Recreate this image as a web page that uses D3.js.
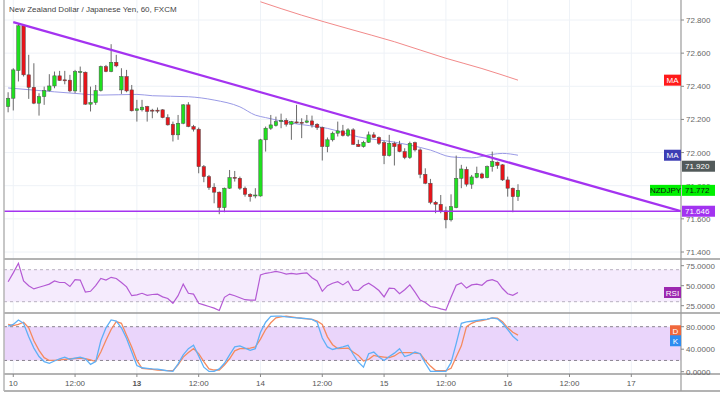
<!DOCTYPE html>
<html>
<head>
<meta charset="utf-8">
<script src="https://cdn.jsdelivr.net/npm/d3@7"></script>
<style>
  body { margin: 0; background: #fff; }
  svg { display: block; font-family: "Liberation Sans", Arial, sans-serif; }
</style>
</head>
<body>
<script>
// hourly candles, NZD/JPY (index 0 = first visible bar)
const opens = [
  72.278, 72.328, 72.495, 72.765, 72.469, 72.394, 72.298, 72.338, 72.374, 72.402,
  72.463, 72.439, 72.437, 72.372, 72.485, 72.485, 72.292, 72.302, 72.374, 72.519,
  72.489, 72.545, 72.378, 72.459, 72.378, 72.254, 72.258, 72.278, 72.256, 72.256,
  72.258, 72.211, 72.171, 72.107, 72.177, 72.288, 72.157, 72.141, 71.915, 71.855,
  71.791, 71.761, 71.668, 71.785, 71.851, 71.845, 71.785, 71.748, 71.738, 71.738,
  72.077, 72.147, 72.163, 72.187, 72.195, 72.171, 72.185, 72.183, 72.183, 72.191,
  72.171, 72.151, 72.036, 72.077, 72.117, 72.131, 72.103, 72.137, 72.050, 72.036,
  72.062, 72.107, 72.091, 72.060, 71.982, 72.056, 72.050, 72.006, 71.970, 72.060,
  72.016, 71.869, 71.815, 71.700, 71.688, 71.648, 71.594, 71.668, 71.845, 71.899,
  71.809, 71.851, 71.871, 71.849, 71.915, 71.942, 71.926, 71.835, 71.785, 71.734
];
const highs = [
  72.364, 72.509, 72.781, 72.775, 72.590, 72.539, 72.358, 72.398, 72.473, 72.489,
  72.493, 72.493, 72.469, 72.499, 72.519, 72.489, 72.398, 72.408, 72.525, 72.529,
  72.654, 72.590, 72.509, 72.499, 72.408, 72.318, 72.318, 72.282, 72.264, 72.272,
  72.262, 72.231, 72.187, 72.227, 72.292, 72.304, 72.167, 72.151, 71.925, 71.865,
  71.815, 71.765, 71.789, 71.895, 71.889, 71.855, 71.795, 71.755, 71.785, 72.083,
  72.157, 72.227, 72.217, 72.235, 72.207, 72.191, 72.288, 72.207, 72.227, 72.223,
  72.177, 72.157, 72.091, 72.127, 72.187, 72.167, 72.147, 72.147, 72.077, 72.071,
  72.127, 72.123, 72.097, 72.071, 72.107, 72.066, 72.071, 72.026, 72.066, 72.066,
  72.026, 71.905, 71.841, 71.708, 71.744, 71.674, 71.748, 71.982, 71.926, 71.915,
  71.865, 71.915, 71.879, 71.922, 72.006, 71.946, 71.930, 71.855, 71.789, 71.809
];
const lows = [
  72.243, 72.254, 72.429, 72.459, 72.324, 72.292, 72.223, 72.288, 72.368, 72.388,
  72.433, 72.412, 72.364, 72.358, 72.364, 72.288, 72.248, 72.288, 72.368, 72.485,
  72.485, 72.515, 72.354, 72.364, 72.248, 72.187, 72.248, 72.187, 72.207, 72.238,
  72.207, 72.163, 72.067, 72.077, 72.171, 72.153, 72.127, 71.875, 71.821, 71.775,
  71.694, 71.628, 71.640, 71.781, 71.825, 71.775, 71.734, 71.704, 71.724, 71.734,
  72.006, 72.137, 72.157, 72.147, 72.157, 72.077, 72.175, 72.087, 72.177, 72.151,
  72.137, 71.952, 72.002, 72.067, 72.097, 72.097, 72.095, 72.046, 72.034, 72.030,
  72.058, 72.087, 72.046, 71.930, 71.976, 71.922, 72.002, 71.960, 71.962, 72.006,
  71.845, 71.809, 71.688, 71.634, 71.634, 71.543, 71.584, 71.664, 71.785, 71.795,
  71.781, 71.845, 71.841, 71.845, 71.885, 71.902, 71.829, 71.734, 71.640, 71.708
];
const closes = [
  72.328, 72.499, 72.765, 72.469, 72.394, 72.298, 72.338, 72.374, 72.402, 72.463,
  72.435, 72.435, 72.372, 72.489, 72.489, 72.292, 72.302, 72.374, 72.519, 72.489,
  72.545, 72.523, 72.459, 72.372, 72.252, 72.264, 72.274, 72.248, 72.250, 72.252,
  72.211, 72.167, 72.107, 72.177, 72.288, 72.157, 72.141, 71.915, 71.855, 71.789,
  71.761, 71.668, 71.785, 71.849, 71.845, 71.785, 71.748, 71.734, 71.744, 72.077,
  72.147, 72.167, 72.187, 72.195, 72.171, 72.187, 72.179, 72.177, 72.191, 72.167,
  72.151, 72.036, 72.077, 72.117, 72.131, 72.103, 72.137, 72.050, 72.036, 72.062,
  72.107, 72.091, 72.056, 71.982, 72.056, 72.036, 72.006, 71.970, 72.056, 72.016,
  71.869, 71.815, 71.700, 71.688, 71.648, 71.594, 71.674, 71.845, 71.901, 71.809,
  71.853, 71.875, 71.847, 71.915, 71.946, 71.922, 71.835, 71.785, 71.734, 71.772
];

// moving averages, read at a few bars
const maFastIdx = [0, 5, 13, 18, 25, 28, 35, 40, 45, 48, 50, 55, 62, 68, 75, 78, 82, 86, 90, 94, 96, 99];
const maFastVal = [72.390, 72.377, 72.357, 72.347, 72.351, 72.343, 72.337, 72.317, 72.276, 72.226, 72.211,
                   72.178, 72.146, 72.095, 72.063, 72.045, 72.015, 71.974, 71.968, 71.989, 71.995, 71.984];
const maSlowIdx = [49, 57, 66, 75, 85, 92, 99];
const maSlowVal = [72.910, 72.829, 72.748, 72.669, 72.569, 72.507, 72.437];

// drawn lines
const trendIdx = [1, 130.65];
const trendVal = [72.787, 71.646];
const supportVal = 71.646;
const maTagText = "71.920";

const rsi = [
  55, 66, 78, 56, 50, 46, 48, 50, 52, 56,
  54, 54, 49, 57.5, 57, 42, 43, 50, 59, 57,
  60.5, 59, 54, 48.5, 37.5, 38.5, 40.5, 38, 39, 39.5,
  36, 34, 28, 37.5, 52, 40.5, 39.5, 28, 26, 24,
  22, 19, 35.5, 39.5, 37.5, 35, 32.5, 32, 32, 63.5,
  65.5, 66.5, 68, 66.5, 64.5, 65.5, 64.5, 65.5, 66, 60,
  56, 43, 50, 53, 55, 51, 55.5, 44.5, 44, 50,
  53, 49, 44, 36, 47, 46.5, 40, 45, 51, 42,
  32, 29, 24, 23, 21, 19.5, 35.5, 50.5, 53.5, 47,
  51, 52, 50.5, 56, 57.5, 55, 46.5, 40, 38, 41.5
];
const stochK = [
  81, 84, 92, 86, 62, 42, 27, 18, 15, 19,
  23, 26, 22, 24, 26, 23, 13, 18, 55, 78,
  92, 90, 78, 59, 35, 11, 7, 6, 5, 4.5,
  3, 1.5, 0.5, 14, 30, 41, 47, 28, 8, 0.5,
  0.5, 5, 15, 30, 44, 46, 42, 38, 41, 70,
  88, 98.5, 98.7, 98.7, 97.5, 96.5, 95.8, 95, 94.5, 93,
  88, 60, 44, 39.5, 42, 44, 47, 31, 17, 8,
  32, 35, 26, 20, 27, 33, 41, 27, 30, 35,
  32, 15, 0.5, 0.5, 0.5, 0.5, 16, 50, 86, 88.5,
  89.7, 91, 92.5, 93.5, 95.5, 94, 86, 75, 63, 55
];
const stochD = [
  84, 82, 84, 88, 78, 55, 38, 25, 20, 20,
  21, 22, 23, 23.5, 24, 23, 21, 18, 35, 56,
  75, 89, 86, 65, 44, 20, 6, 5, 4, 3,
  2.5, 2, 2, 12, 26, 34, 41, 32, 18, 5,
  3, 3, 12, 23, 37, 41, 41, 42, 44, 58,
  75, 87, 95.8, 97.5, 98.7, 97.5, 96, 95, 94, 93,
  90, 84, 62, 48, 41, 41.5, 42, 35, 29, 19,
  22, 29, 27, 26, 25, 28, 34, 34, 34, 33,
  32, 20, 10, 2, 1.8, 1.8, 6, 26, 46, 80,
  86, 89.7, 91, 93, 95.5, 95, 89, 78, 70, 65
];

const timeTickIdx = [1, 13, 25, 37, 49, 61, 73, 85, 97, 109, 121];
const timeTickText = ["10", "12:00", "13", "12:00", "14", "12:00", "15", "12:00", "16", "12:00", "17"];
const priceTicks = [71.4, 71.6, 71.8, 72.0, 72.2, 72.4, 72.6, 72.8];
const rsiTicks = [25, 50, 75];
const stochTicks = [0, 40, 80];

const W = 720, H = 399;
const left = 4, right = 681;
const pane = { top: 0, bottom: 259 };
const rsiPane = { top: 259, bottom: 313 };
const stPane = { top: 313, bottom: 374 };
const axisBottom = 391;

const green = "#1fe01f", red = "#e8141a";

const svg = d3.select("body").append("svg").attr("width", W).attr("height", H);

const x = d3.scaleLinear().domain([-0.8, 130.65]).range([left, right]);
const y = d3.scaleLinear().domain([71.4, 72.8]).range([252, 20]);
const yR = d3.scaleLinear().domain([25, 75]).range([305.7, 265.7]);
const yS = d3.scaleLinear().domain([0, 80]).range([371.7, 326.7]);

const defs = svg.append("defs");
defs.append("clipPath").attr("id", "clipPrice")
  .append("rect").attr("x", left).attr("y", pane.top).attr("width", right - left).attr("height", pane.bottom - pane.top);

// grid
const grid = svg.append("g");
grid.selectAll(".vg").data(timeTickIdx).join("line")
  .attr("x1", (d) => x(d)).attr("x2", (d) => x(d))
  .attr("y1", 0).attr("y2", stPane.bottom)
  .style("stroke", "#eef2f7").style("stroke-width", 1);
grid.selectAll(".hg").data(priceTicks).join("line")
  .attr("x1", left).attr("x2", right)
  .attr("y1", (d) => y(d)).attr("y2", (d) => y(d))
  .style("stroke", "#eef2f7").style("stroke-width", 1);

// title
svg.append("text").attr("x", 9).attr("y", 12)
  .style("font-size", "8px").style("fill", "#444")
  .text("New Zealand Dollar / Japanese Yen, 60, FXCM");

// price pane
const price = svg.append("g").attr("clip-path", "url(#clipPrice)");

const maLine = d3.line().x((d) => x(d[0])).y((d) => y(d[1])).curve(d3.curveMonotoneX);
price.append("path")
  .attr("d", maLine(d3.zip(maSlowIdx, maSlowVal)))
  .style("fill", "none").style("stroke", "#f28a8a").style("stroke-width", 1);
price.append("path")
  .attr("d", maLine(d3.zip(maFastIdx, maFastVal)))
  .style("fill", "none").style("stroke", "#9a9ae6").style("stroke-width", 1);

const bars = d3.range(opens.length);
price.selectAll(".wick").data(bars).join("line")
  .attr("x1", (i) => x(i)).attr("x2", (i) => x(i))
  .attr("y1", (i) => y(highs[i])).attr("y2", (i) => y(lows[i]))
  .style("stroke", "#6b6b6b").style("stroke-width", 1);
price.selectAll(".body").data(bars).join("rect")
  .attr("x", (i) => x(i) - 1.7)
  .attr("width", 3.4)
  .attr("y", (i) => y(Math.max(opens[i], closes[i])))
  .attr("height", (i) => Math.max(1, Math.abs(y(opens[i]) - y(closes[i]))))
  .style("fill", (i) => (closes[i] >= opens[i] ? green : red))
  .style("stroke", "#4d4d4d").style("stroke-width", 0.5);

price.append("line")
  .attr("x1", left).attr("x2", right)
  .attr("y1", y(supportVal)).attr("y2", y(supportVal))
  .style("stroke", "#a433f0").style("stroke-width", 1.4);
price.append("line")
  .attr("x1", x(trendIdx[0])).attr("y1", y(trendVal[0]))
  .attr("x2", x(trendIdx[1])).attr("y2", y(trendVal[1]))
  .style("stroke", "#a433f0").style("stroke-width", 2.2);

// RSI pane
const rsiG = svg.append("g");
rsiG.append("rect").attr("x", left).attr("width", right - left)
  .attr("y", yR(70)).attr("height", yR(30) - yR(70)).style("fill", "#f5ebfd");
[70, 30].forEach((v) => {
  rsiG.append("line").attr("x1", left).attr("x2", right).attr("y1", yR(v)).attr("y2", yR(v))
    .style("stroke", "#b8b0c0").style("stroke-dasharray", "3,3");
});
rsiG.append("path")
  .attr("d", d3.line().x((d, i) => x(i)).y((d) => yR(d))(rsi))
  .style("fill", "none").style("stroke", "#b45ad4").style("stroke-width", 1.2);

// Stochastic pane
const stG = svg.append("g");
stG.append("rect").attr("x", left).attr("width", right - left)
  .attr("y", yS(80)).attr("height", yS(20) - yS(80)).style("fill", "#ead5fb");
[80, 20].forEach((v) => {
  stG.append("line").attr("x1", left).attr("x2", right).attr("y1", yS(v)).attr("y2", yS(v))
    .style("stroke", "#8a8490").style("stroke-dasharray", "3,3");
});
const stLine = d3.line().x((d, i) => x(i)).y((d) => yS(d));
stG.append("path").attr("d", stLine(stochD))
  .style("fill", "none").style("stroke", "#f58a5e").style("stroke-width", 1.3);
stG.append("path").attr("d", stLine(stochK))
  .style("fill", "none").style("stroke", "#5fb0f6").style("stroke-width", 1.3);

// borders
const border = "#9a9a9a";
[pane.bottom, rsiPane.bottom, stPane.bottom, axisBottom].forEach((yy) => {
  svg.append("line").attr("x1", left).attr("x2", W).attr("y1", yy).attr("y2", yy)
    .style("stroke", border).style("stroke-width", 1.3);
});
svg.append("line").attr("x1", left).attr("x2", left).attr("y1", 0).attr("y2", axisBottom)
  .style("stroke", "#b5b5b5").style("stroke-width", 1.5);
svg.append("line").attr("x1", right).attr("x2", right).attr("y1", 0).attr("y2", axisBottom)
  .style("stroke", border).style("stroke-width", 1.2);

// right axes
function rightAxis(scale, ticks, fmt) {
  const g = svg.append("g");
  g.selectAll("line").data(ticks).join("line")
    .attr("x1", right).attr("x2", right + 3)
    .attr("y1", (d) => scale(d)).attr("y2", (d) => scale(d))
    .style("stroke", "#888");
  g.selectAll("text").data(ticks).join("text")
    .attr("x", right + 5).attr("y", (d) => scale(d) + 3)
    .style("font-size", "8px").style("fill", "#666")
    .text(fmt);
}
rightAxis(y, priceTicks, d3.format(".3f"));
rightAxis(yR, rsiTicks, d3.format(".4f"));
rightAxis(yS, stochTicks, d3.format(".4f"));

// time axis
svg.append("g").selectAll("text").data(timeTickIdx).join("text")
  .attr("x", (d) => x(d)).attr("y", 386)
  .attr("text-anchor", "middle")
  .style("font-size", "8px").style("fill", "#555")
  .style("font-weight", (d, i) => (timeTickText[i] === "13" ? "bold" : "normal"))
  .text((d, i) => timeTickText[i]);
svg.append("g").selectAll("line").data(timeTickIdx).join("line")
  .attr("x1", (d) => x(d)).attr("x2", (d) => x(d))
  .attr("y1", stPane.bottom).attr("y2", stPane.bottom + 3)
  .style("stroke", "#888");

// value tags
function tag(xl, w, yc, fill, txt, txtColor, anchor) {
  svg.append("rect").attr("x", xl).attr("y", yc - 5.5).attr("width", w).attr("height", 11)
    .style("fill", fill);
  svg.append("text")
    .attr("x", anchor === "middle" ? xl + w / 2 : xl + 3)
    .attr("y", yc + 3).attr("text-anchor", anchor || "start")
    .style("font-size", "8px").style("fill", txtColor).text(txt);
}
const last = opens.length - 1;
const fastLast = maFastVal[maFastVal.length - 1];
const slowLast = maSlowVal[maSlowVal.length - 1];
tag(664, 17, y(slowLast), "#ff1a1a", "MA", "#fff", "middle");
tag(664, 17, y(fastLast), "#3d3db4", "MA", "#fff", "middle");
tag(682, 33, y(fastLast) + 11, "#525a5a", maTagText, "#fff");
tag(650, 31, y(closes[last]), "#00f000", "NZDJPY", "#111", "middle");
tag(682, 33, y(closes[last]), "#00f000", closes[last].toFixed(3), "#111");
tag(682, 33, y(supportVal), "#a233f0", supportVal.toFixed(3), "#fff");
tag(664, 17, yR(rsi[last]), "#9c27b0", "RSI", "#fff", "middle");
const kY = yS(stochK[last]);
const dY = Math.min(yS(stochD[last]), kY - 10);
tag(670, 11, dY, "#f0683c", "D", "#fff", "middle");
tag(670, 11, kY, "#2d8cf0", "K", "#fff", "middle");
</script>
</body>
</html>
